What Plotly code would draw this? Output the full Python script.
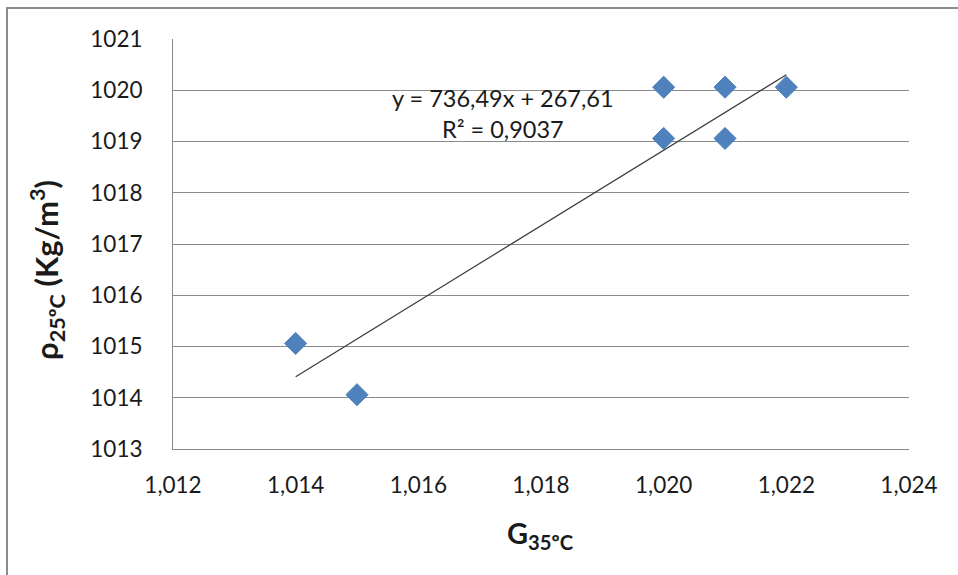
import plotly.graph_objects as go

# Data
g35 = [1.014, 1.015, 1.020, 1.020, 1.021, 1.021, 1.022]
rho25 = [1015.06, 1014.06, 1020.06, 1019.06, 1020.06, 1019.06, 1020.06]

trend_slope = 736.49
trend_intercept = 267.61
trend_x = [1.014, 1.022]
trend_y = [trend_slope * x + trend_intercept for x in trend_x]

x_ticks = [1.012, 1.014, 1.016, 1.018, 1.020, 1.022, 1.024]
x_ticklabels = ["1,012", "1,014", "1,016", "1,018", "1,020", "1,022", "1,024"]
y_ticks = [1013, 1014, 1015, 1016, 1017, 1018, 1019, 1020, 1021]
y_ticklabels = [str(v) for v in y_ticks]

FONT = "Lato"
TXT = "#1a1a1a"
GRID = "#8a8a8a"

L, R, T, B = 173, 49, 39, 126
PW, PH = 958 - L - R, 575 - T - B

def px(xp):
    return (xp - L) / PW

def py(yp):
    return (575 - B - yp) / PH

fig = go.Figure()
fig.add_trace(go.Scatter(
    x=trend_x, y=trend_y, mode="lines",
    line=dict(color="#3a3a3a", width=1.2),
    hoverinfo="skip", showlegend=False,
))
fig.add_trace(go.Scatter(
    x=g35, y=rho25, mode="markers",
    marker=dict(symbol="diamond", size=17, color="#4F81BD",
                line=dict(color="#4A7EBB", width=1)),
    showlegend=False,
))

fig.add_annotation(x=px(503), y=py(98), xref="paper", yref="paper",
                   xanchor="center", yanchor="middle",
                   text="y = 736,49x + 267,61", showarrow=False,
                   font=dict(family=FONT, size=23.5, color=TXT))
fig.add_annotation(x=px(503), y=py(129), xref="paper", yref="paper",
                   xanchor="center", yanchor="middle",
                   text="R² = 0,9037", showarrow=False,
                   font=dict(family=FONT, size=23.5, color=TXT))

# Axis titles
fig.add_annotation(x=px(540), y=py(534), xref="paper", yref="paper",
                   text="<b>G<sub>35ºC</sub></b>", showarrow=False,
                   xanchor="center", yanchor="middle",
                   font=dict(family=FONT, size=29, color=TXT))
fig.add_annotation(x=px(47), y=py(270), xref="paper", yref="paper",
                   text="<b>ρ<sub>25ºC</sub> (Kg/m<sup>3</sup>)</b>", showarrow=False,
                   xanchor="center", yanchor="middle",
                   textangle=-90,
                   font=dict(family=FONT, size=31, color=TXT))

# outer chart border
fig.add_shape(type="rect", xref="paper", yref="paper",
              x0=px(7), y0=py(8), x1=px(975), y1=py(595),
              line=dict(color="#8c8c8c", width=2), fillcolor="rgba(0,0,0,0)",
              layer="below")

fig.update_layout(
    width=958, height=575,
    margin=dict(l=L, r=R, t=T, b=B, pad=0),
    paper_bgcolor="white", plot_bgcolor="white",
    font=dict(family=FONT, color=TXT),
    showlegend=False,
)
fig.update_xaxes(
    range=[1.012, 1.024], tickvals=x_ticks, ticktext=x_ticklabels,
    showgrid=False, zeroline=False,
    showline=True, linecolor=GRID, linewidth=1,
    ticks="", ticklabelstandoff=16,
    tickfont=dict(family=FONT, size=22.5, color=TXT),
)
fig.update_yaxes(
    range=[1013, 1021], tickvals=y_ticks, ticktext=y_ticklabels,
    showgrid=True, gridcolor=GRID, gridwidth=1, zeroline=False,
    showline=True, linecolor=GRID, linewidth=1,
    ticks="", ticklabelstandoff=25,
    tickfont=dict(family=FONT, size=22.5, color=TXT),
)

fig.write_html("out.html")
